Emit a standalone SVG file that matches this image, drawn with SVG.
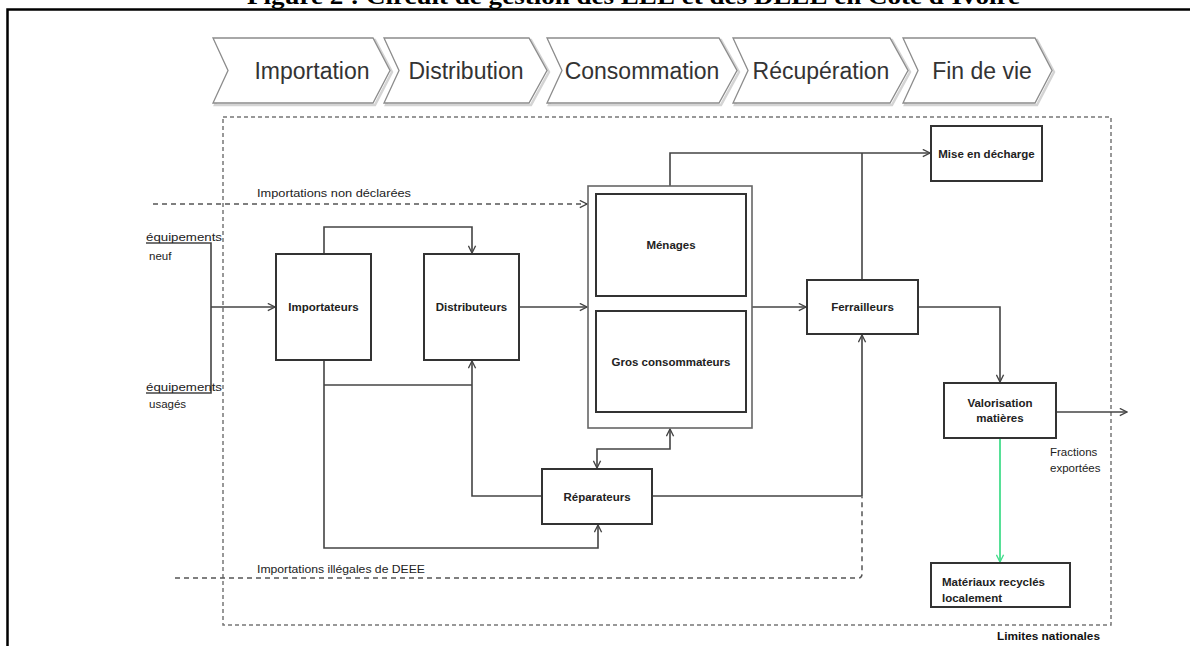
<svg xmlns="http://www.w3.org/2000/svg" width="1190" height="646" viewBox="0 0 1190 646">
<defs>
<style>
.frame{stroke:#000;stroke-width:2.5;fill:none}
.title{font-family:"Liberation Serif",serif;font-weight:bold;font-size:24px;fill:#000}
.chev{fill:#fff;stroke:#8c8c8c;stroke-width:1.3}
.chevs{fill:none;stroke:#d4d4d4;stroke-width:2.5}
.ctext{font-family:"Liberation Sans",Arial,sans-serif;font-size:23px;fill:#333;text-anchor:middle}
.bound{fill:none;stroke:#777;stroke-width:1.5;stroke-dasharray:4 3}
.box{fill:#fff;stroke:#333;stroke-width:2}
.outer{fill:#fff;stroke:#666;stroke-width:1.6}
.ntext{font-family:"Liberation Sans",Arial,sans-serif;font-size:11.5px;font-weight:bold;fill:#222;text-anchor:middle}
.ltext{font-family:"Liberation Sans",Arial,sans-serif;font-size:11.5px;fill:#222}
.btext{font-family:"Liberation Sans",Arial,sans-serif;font-size:11px;font-weight:bold;fill:#111}
.ln{fill:none;stroke:#444;stroke-width:1.6}
.dash{fill:none;stroke:#555;stroke-width:1.5;stroke-dasharray:5 4}
.green{fill:none;stroke:#44dd8c;stroke-width:1.8}
</style>
<marker id="arr" viewBox="0 0 10 10" refX="9" refY="5" markerWidth="9" markerHeight="9" markerUnits="userSpaceOnUse" orient="auto-start-reverse">
<path d="M1,1 L9,5 L1,9" fill="none" stroke="#444" stroke-width="1.5"/>
</marker>
<marker id="arrg" viewBox="0 0 10 10" refX="9" refY="5" markerWidth="9" markerHeight="9" markerUnits="userSpaceOnUse" orient="auto">
<path d="M1,1 L9,5 L1,9" fill="none" stroke="#44dd8c" stroke-width="1.5"/>
</marker>
</defs>
<rect width="1190" height="646" fill="#fff"/>

<!-- page frame and cut title -->
<text class="title" x="247" y="4" textLength="773" lengthAdjust="spacingAndGlyphs">Figure 2 : Circuit de gestion des EEE et des DEEE en Côte d'Ivoire</text>
<path class="frame" d="M7.5,646 V9.5 H1190"/>

<!-- chevron stages -->
<g id="stages">
<g id="stage-importation">
<polygon class="chevs" points="215,40 375,40 392,72 375,105 215,105 230,72"/>
<polygon class="chev" points="213,38 373,38 390,70.5 373,103 213,103 228,70.5"/>
<text class="ctext" x="312" y="79">Importation</text>
</g>
<g id="stage-distribution">
<polygon class="chevs" points="386,40 531,40 549,72 531,105 386,105 401,72"/>
<polygon class="chev" points="384,38 529,38 547,70.5 529,103 384,103 399,70.5"/>
<text class="ctext" x="466" y="79">Distribution</text>
</g>
<g id="stage-consommation">
<polygon class="chevs" points="549,40 721,40 739,72 721,105 549,105 564,72"/>
<polygon class="chev" points="547,38 719,38 737,70.5 719,103 547,103 562,70.5"/>
<text class="ctext" x="642" y="79">Consommation</text>
</g>
<g id="stage-recuperation">
<polygon class="chevs" points="735,40 892,40 910,72 892,105 735,105 750,72"/>
<polygon class="chev" points="733,38 890,38 908,70.5 890,103 733,103 748,70.5"/>
<text class="ctext" x="821" y="79">Récupération</text>
</g>
<g id="stage-findevie">
<polygon class="chevs" points="905,40 1037,40 1054,72 1037,105 905,105 920,72"/>
<polygon class="chev" points="903,38 1035,38 1052,70.5 1035,103 903,103 918,70.5"/>
<text class="ctext" x="982" y="79">Fin de vie</text>
</g>
</g>

<!-- national boundary -->
<g id="boundary">
<rect class="bound" x="223" y="117" width="888" height="508"/>
<text class="btext" x="997" y="640" textLength="103" lengthAdjust="spacingAndGlyphs">Limites nationales</text>
</g>

<!-- connectors -->
<g id="connectors">
<path class="ln" d="M146,243 H211 V393 H146"/>
<path class="ln" d="M211,307 H275" marker-end="url(#arr)"/>
<path class="dash" d="M153,204 H587" marker-end="url(#arr)"/>
<path class="ln" d="M324,254 V227 H472 V253" marker-end="url(#arr)"/>
<path class="ln" d="M519,307 H587" marker-end="url(#arr)"/>
<path class="ln" d="M324,360 V548 H598 V525" marker-end="url(#arr)"/>
<path class="ln" d="M324,385 H472"/>
<path class="ln" d="M542,496 H472 V361" marker-end="url(#arr)"/>
<path class="ln" d="M752,307 H806" marker-end="url(#arr)"/>
<path class="ln" d="M670,186 V153 H930" marker-end="url(#arr)"/>
<path class="ln" d="M862,280 V153"/>
<path class="ln" d="M918,307 H1000 V382" marker-end="url(#arr)"/>
<path class="ln" d="M652,496 H862 V335" marker-end="url(#arr)"/>
<path class="dash" d="M175,578 H858 Q862,578 862,574 V497"/>
<path class="ln" d="M597,468 V449 H670 V429" marker-start="url(#arr)" marker-end="url(#arr)"/>
<path class="ln" d="M1056,412 H1127" marker-end="url(#arr)"/>
<path class="green" d="M1000,438 V562" marker-end="url(#arrg)"/>
</g>

<!-- free labels -->
<g id="labels">
<text class="ltext" x="257" y="197" textLength="154" lengthAdjust="spacingAndGlyphs">Importations non déclarées</text>
<text class="ltext" x="257" y="573" textLength="168" lengthAdjust="spacingAndGlyphs">Importations illégales de DEEE</text>
<text class="ltext" x="146" y="241" textLength="76" lengthAdjust="spacingAndGlyphs">équipements</text>
<text class="ltext" x="149" y="260">neuf</text>
<text class="ltext" x="146" y="391" textLength="76" lengthAdjust="spacingAndGlyphs">équipements</text>
<text class="ltext" x="149" y="408">usagés</text>
<text class="ltext" x="1050" y="456">Fractions</text>
<text class="ltext" x="1050" y="472">exportées</text>
</g>

<!-- nodes -->
<g id="importateurs">
<rect class="box" x="276" y="254" width="95" height="106"/>
<text class="ntext" x="323.5" y="311">Importateurs</text>
</g>
<g id="distributeurs">
<rect class="box" x="424" y="254" width="95" height="106"/>
<text class="ntext" x="471.5" y="311">Distributeurs</text>
</g>
<g id="consommateurs">
<rect class="outer" x="588" y="186" width="164" height="242"/>
<g id="menages">
<rect class="box" x="596" y="194" width="150" height="102"/>
<text class="ntext" x="671" y="249">Ménages</text>
</g>
<g id="gros-consommateurs">
<rect class="box" x="596" y="311" width="150" height="101"/>
<text class="ntext" x="671" y="366">Gros consommateurs</text>
</g>
</g>
<g id="reparateurs">
<rect class="box" x="542" y="469" width="110" height="55"/>
<text class="ntext" x="597" y="501">Réparateurs</text>
</g>
<g id="ferrailleurs">
<rect class="box" x="807" y="280" width="111" height="54"/>
<text class="ntext" x="862.5" y="311">Ferrailleurs</text>
</g>
<g id="mise-en-decharge">
<rect class="box" x="931" y="126" width="111" height="55"/>
<text class="ntext" x="986.5" y="158">Mise en décharge</text>
</g>
<g id="valorisation">
<rect class="box" x="944" y="383" width="112" height="55"/>
<text class="ntext" x="1000" y="407">Valorisation</text>
<text class="ntext" x="1000" y="422">matières</text>
</g>
<g id="materiaux">
<rect class="box" x="931" y="563" width="139" height="44"/>
<text class="ltext" x="942" y="586" font-weight="bold" font-size="11">Matériaux recyclés</text>
<text class="ltext" x="942" y="602" font-weight="bold" font-size="11">localement</text>
</g>
</svg>
